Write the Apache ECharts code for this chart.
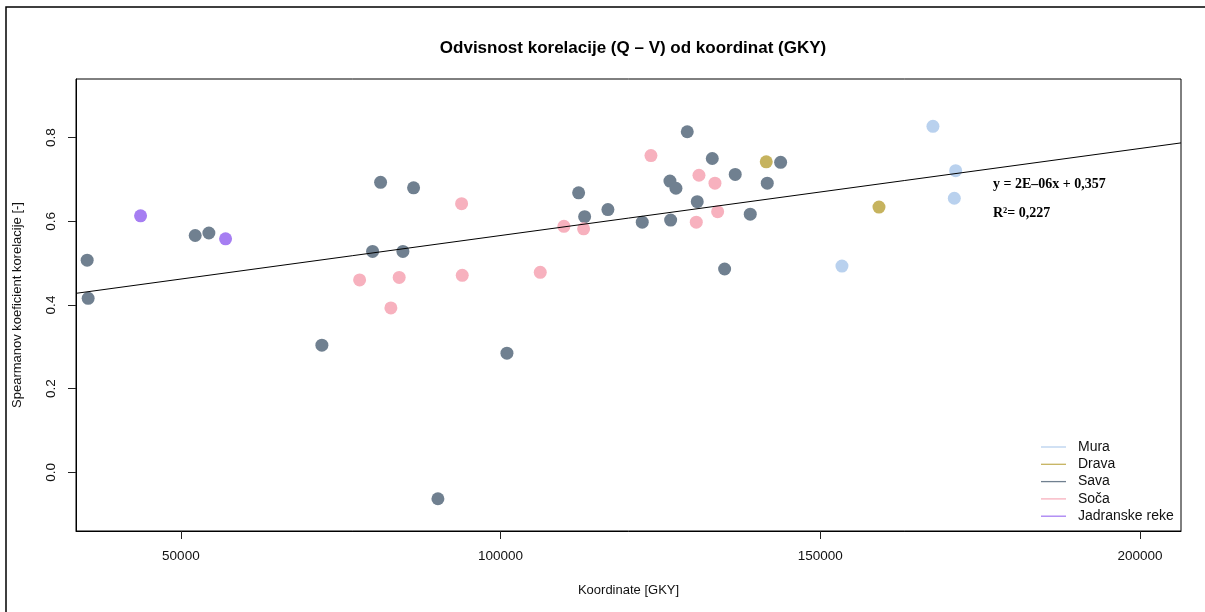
<!DOCTYPE html>
<html><head><meta charset="utf-8">
<script src="https://cdn.jsdelivr.net/npm/echarts@6/dist/echarts.min.js"></script>
<style>html,body{margin:0;padding:0;background:#fff}#c{width:1205px;height:612px}</style>
</head><body><div id="c"></div>
<script>
const seriesNames = ['Mura', 'Drava', 'Sava', 'Soča', 'Jadranske reke'];
const seriesColors = ['#b9d1ee', '#c6b35e', '#708090', '#f7b1be', '#a67ef2'];

const muraX = [153380, 167610, 171160, 170950];
const muraY = [0.493, 0.827, 0.721, 0.655];

const dravaX = [141540, 159170];
const dravaY = [0.742, 0.634];

const savaX = [35345, 35500, 52240, 54380, 72050, 79980, 81230, 84720, 86390, 90195, 100990,
  112200, 113140, 116780, 122150, 126590, 126480, 127420, 129190, 130750, 133100, 135030,
  136690, 139040, 141700, 143790];
const savaY = [0.507, 0.416, 0.566, 0.572, 0.304, 0.528, 0.693, 0.528, 0.680, -0.063, 0.285,
  0.668, 0.611, 0.628, 0.598, 0.603, 0.696, 0.679, 0.814, 0.647, 0.750, 0.486,
  0.712, 0.617, 0.691, 0.741];

const socaX = [77950, 82840, 84140, 93900, 94000, 106200, 109900, 112980, 123510, 130600, 131020, 133520, 133940];
const socaY = [0.460, 0.393, 0.466, 0.642, 0.471, 0.478, 0.588, 0.582, 0.757, 0.598, 0.710, 0.691, 0.623];

const jadranX = [43697, 56990];
const jadranY = [0.613, 0.558];

const xTicks = [50000, 100000, 150000, 200000];
const yTicks = [0.0, 0.2, 0.4, 0.6, 0.8];
const yTickLabels = ['0.0', '0.2', '0.4', '0.6', '0.8'];

const fitSlope = 2.08e-6;
const fitIntercept = 0.358;
const eqText = 'y = 2E–06x + 0,357';
const r2Text = 'R²= 0,227';

const xMin = 33600, xMax = 206400, yMin = -0.14, yMax = 0.94;

const allX = [muraX, dravaX, savaX, socaX, jadranX];
const allY = [muraY, dravaY, savaY, socaY, jadranY];

const series = seriesNames.map((n, i) => ({
  name: n, type: 'scatter', symbol: 'circle', symbolSize: 13,
  itemStyle: { color: seriesColors[i], opacity: 1 },
  data: allX[i].map((x, j) => [x, allY[i][j]]),
  z: 2, silent: true
}));
series.push({
  name: 'fit', type: 'line', symbol: 'none', silent: true, z: 3,
  lineStyle: { color: '#000', width: 1 },
  data: [[xMin, fitIntercept + fitSlope * xMin], [xMax, fitIntercept + fitSlope * xMax]]
});

const font = 'Liberation Sans, Arial, sans-serif';
const chart = echarts.init(document.getElementById('c'), null, { renderer: 'canvas' });
chart.setOption({
  animation: false,
  backgroundColor: '#fff',
  title: {
    text: 'Odvisnost korelacije (Q – V) od koordinat (GKY)',
    left: 628, top: 35, textAlign: 'center',
    textStyle: { fontFamily: font, fontSize: 17, fontWeight: 'bold', color: '#000' }
  },
  grid: { left: 76, right: 24, top: 79, bottom: 81, show: true, borderColor: '#000', borderWidth: 1 },
  legend: {
    data: seriesNames, orient: 'vertical', left: 1036, top: 435,
    icon: 'rect', itemWidth: 25, itemHeight: 1.3, itemGap: 3.3,
    textStyle: { fontFamily: font, fontSize: 14, color: '#111', lineHeight: 14, padding: [0, 0, 0, 7] },
    selectedMode: false
  },
  xAxis: {
    type: 'value', min: xMin, max: xMax,
    name: 'Koordinate [GKY]', nameLocation: 'middle', nameGap: 53,
    nameTextStyle: { fontFamily: font, fontSize: 13, color: '#111' },
    splitLine: { show: false },
    axisLine: { show: true, onZero: false, lineStyle: { color: '#000', width: 1 } },
    axisTick: { show: true, length: 8, inside: false, customValues: xTicks, lineStyle: { color: '#222' } },
    axisLabel: { customValues: xTicks, margin: 18, fontFamily: font, fontSize: 13.5, color: '#111', formatter: v => String(v) }
  },
  yAxis: {
    type: 'value', min: yMin, max: yMax,
    name: 'Spearmanov koeficient korelacije [-]', nameLocation: 'middle', nameGap: 52,
    nameTextStyle: { fontFamily: font, fontSize: 13, color: '#111' },
    splitLine: { show: false },
    axisLine: { show: true, onZero: false, lineStyle: { color: '#000', width: 1 } },
    axisTick: { show: true, length: 8, inside: false, customValues: yTicks, lineStyle: { color: '#222' } },
    axisLabel: { customValues: yTicks, rotate: 90, margin: 18, fontFamily: font, fontSize: 13.5, color: '#111',
      formatter: v => yTickLabels[yTicks.findIndex(t => Math.abs(t - v) < 1e-9)] ?? v.toFixed(1) }
  },
  graphic: [
    { type: 'rect', shape: { x: 6, y: 7, width: 1300, height: 700 }, style: { fill: 'none', stroke: '#000', lineWidth: 1.5 }, silent: true },
    { type: 'text', x: 993, y: 184, style: { text: eqText, fontFamily: 'Liberation Serif, Times New Roman, serif', fontWeight: 'bold', fontSize: 14, fill: '#000', verticalAlign: 'middle' } },
    { type: 'text', x: 993, y: 213, style: { text: r2Text, fontFamily: 'Liberation Serif, Times New Roman, serif', fontWeight: 'bold', fontSize: 14, fill: '#000', verticalAlign: 'middle' } }
  ],
  series: series
});
</script></body></html>
